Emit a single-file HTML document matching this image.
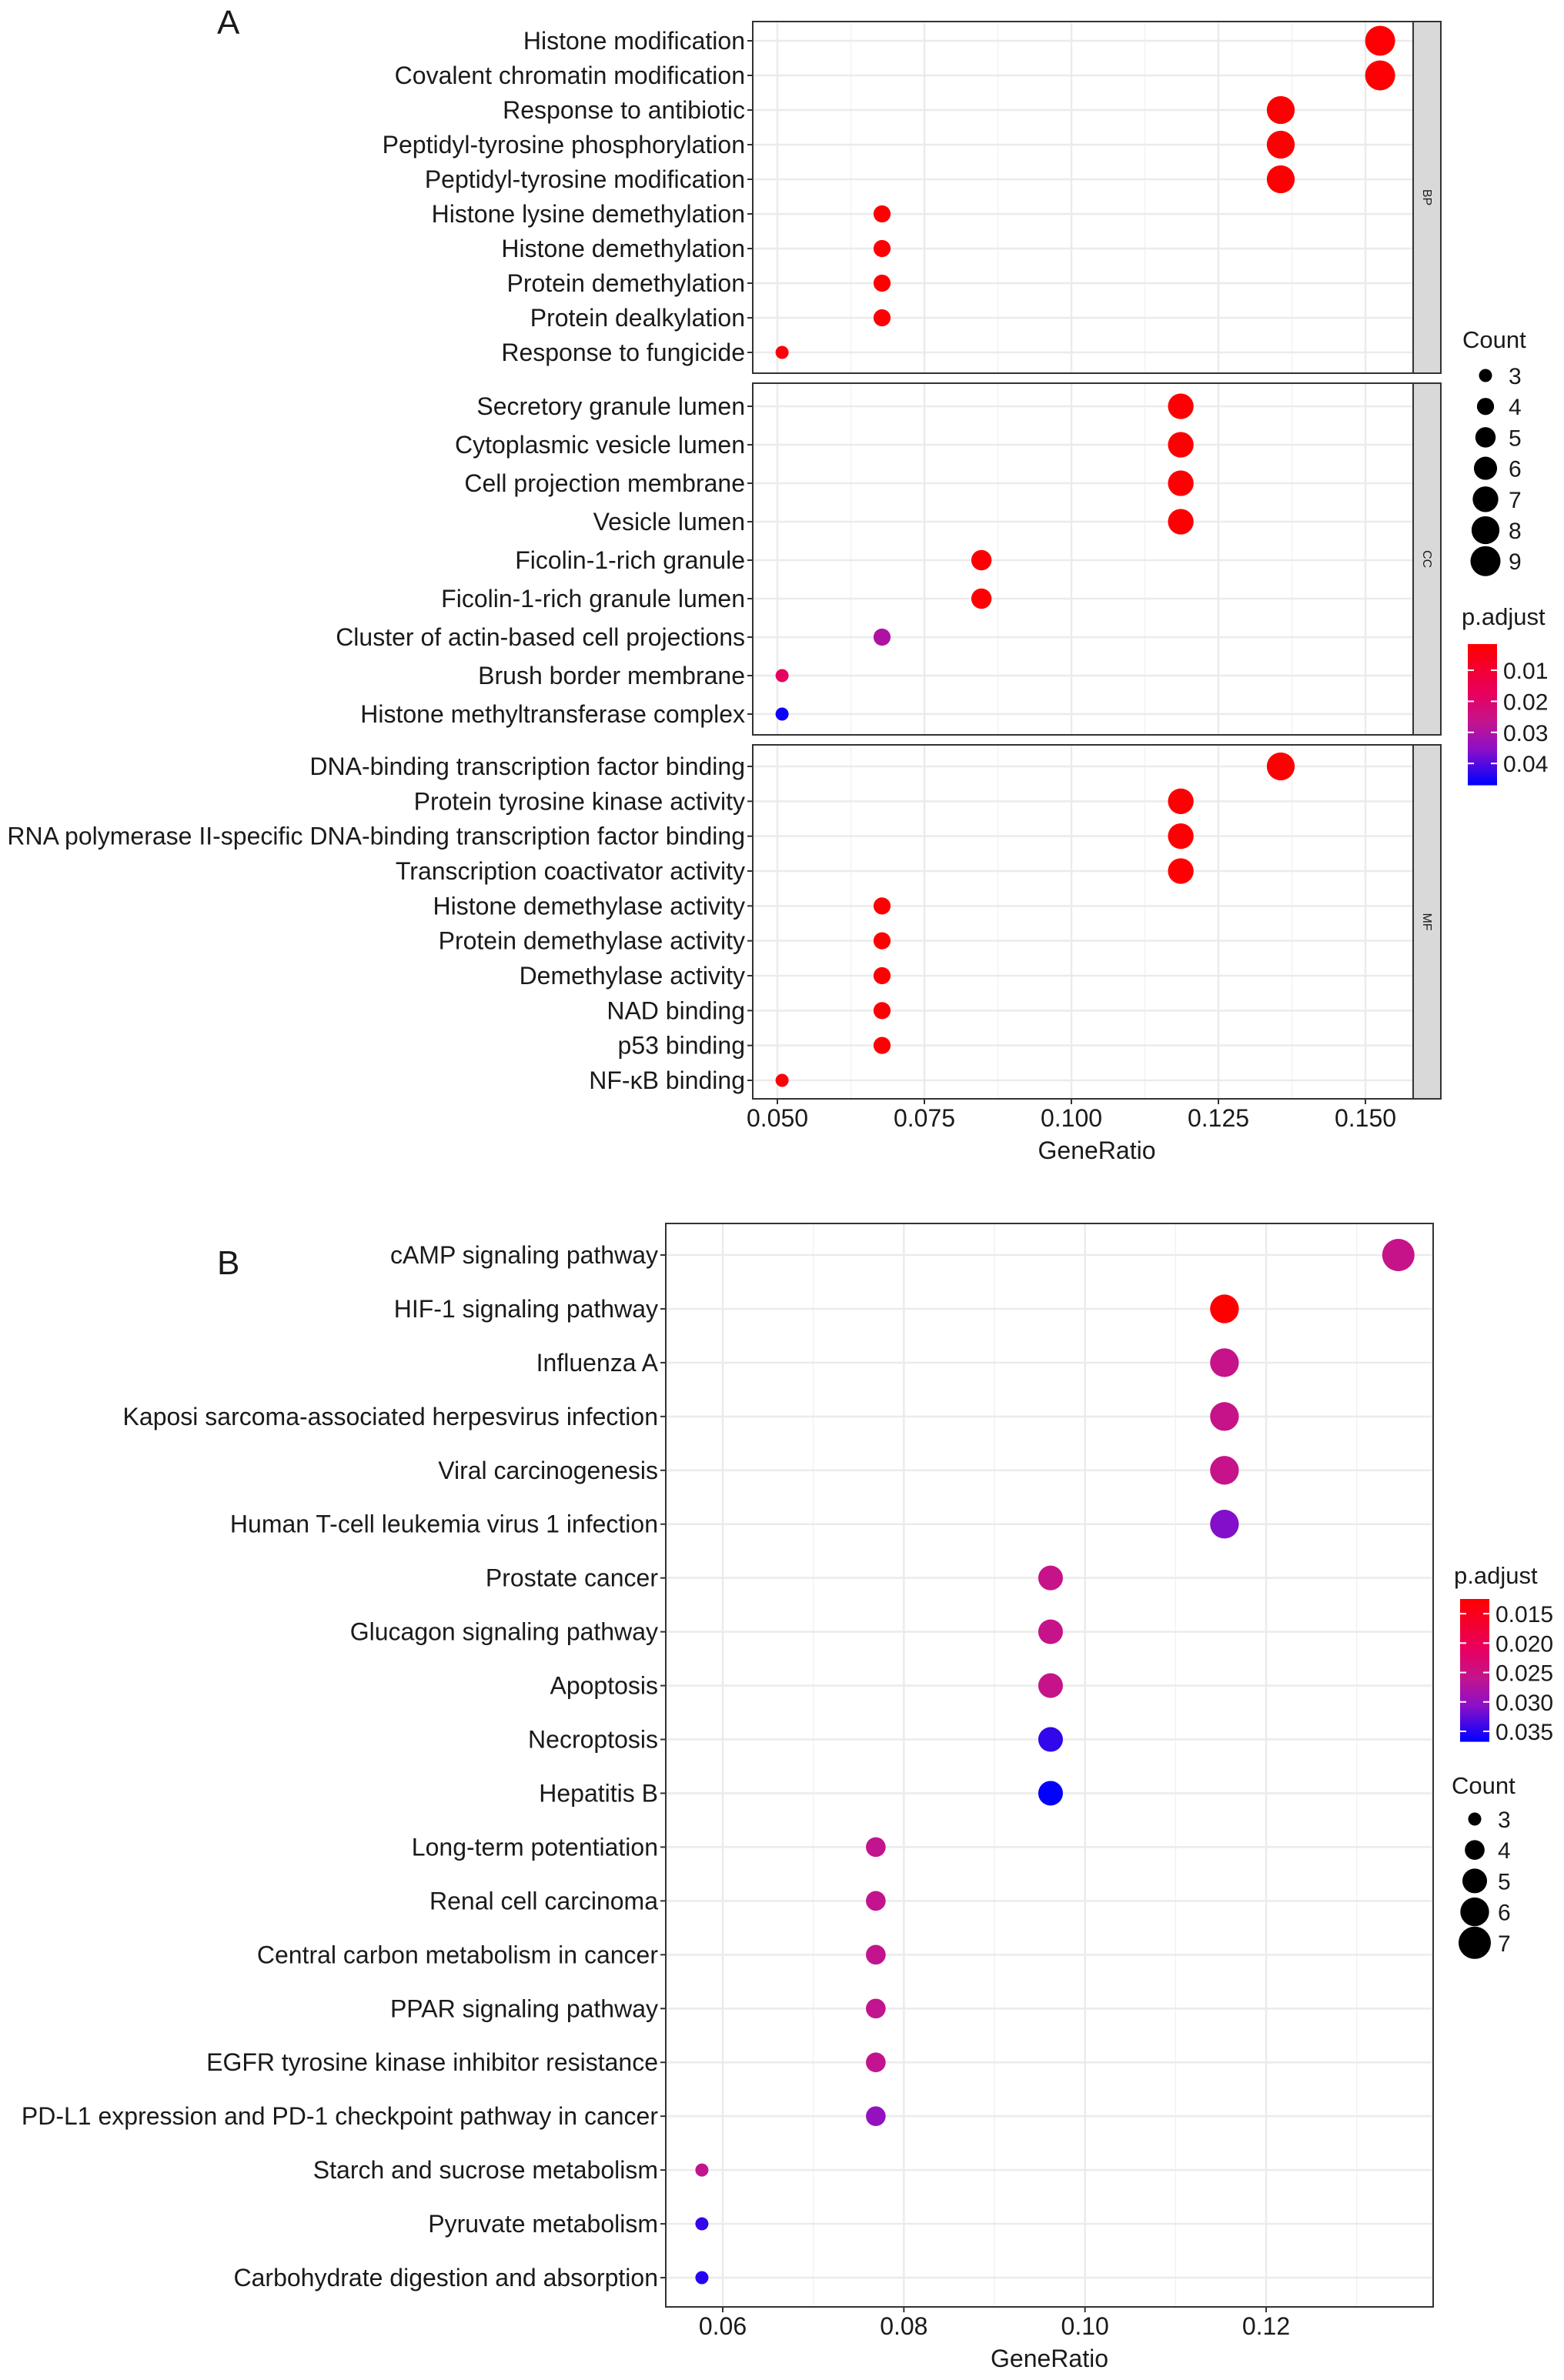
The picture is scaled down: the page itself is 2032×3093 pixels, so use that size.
<!DOCTYPE html>
<html><head><meta charset="utf-8"><style>
html,body{margin:0;padding:0;background:#fff}
svg{display:block}
text{font-family:"Liberation Sans",Arial,sans-serif;fill:#1a1a1a}
</style></head><body>
<svg id="chart" width="2032" height="3093" viewBox="0 0 2032 3093" xmlns="http://www.w3.org/2000/svg">
<rect width="2032" height="3093" fill="#fff"/>
<text x="282" y="44" font-size="44">A</text>
<text x="282" y="1656" font-size="44">B</text>
</svg>
<script>
// ---------- Panel A data ----------
const bpTerms=["Histone modification","Covalent chromatin modification","Response to antibiotic","Peptidyl-tyrosine phosphorylation","Peptidyl-tyrosine modification","Histone lysine demethylation","Histone demethylation","Protein demethylation","Protein dealkylation","Response to fungicide"];
const bpRatio=[0.1525,0.1525,0.1356,0.1356,0.1356,0.0678,0.0678,0.0678,0.0678,0.0508];
const bpCount=[9,9,8,8,8,4,4,4,4,3];
const bpPadj=[0.002,0.002,0.002,0.002,0.002,0.002,0.002,0.002,0.002,0.003];
const ccTerms=["Secretory granule lumen","Cytoplasmic vesicle lumen","Cell projection membrane","Vesicle lumen","Ficolin-1-rich granule","Ficolin-1-rich granule lumen","Cluster of actin-based cell projections","Brush border membrane","Histone methyltransferase complex"];
const ccRatio=[0.1186,0.1186,0.1186,0.1186,0.0847,0.0847,0.0678,0.0508,0.0508];
const ccCount=[7,7,7,7,5,5,4,3,3];
const ccPadj=[0.002,0.002,0.002,0.002,0.002,0.002,0.030,0.018,0.046];
const mfTerms=["DNA-binding transcription factor binding","Protein tyrosine kinase activity","RNA polymerase II-specific DNA-binding transcription factor binding","Transcription coactivator activity","Histone demethylase activity","Protein demethylase activity","Demethylase activity","NAD binding","p53 binding","NF-κB binding"];
const mfRatio=[0.1356,0.1186,0.1186,0.1186,0.0678,0.0678,0.0678,0.0678,0.0678,0.0508];
const mfCount=[8,7,7,7,4,4,4,4,4,3];
const mfPadj=[0.002,0.002,0.002,0.002,0.002,0.002,0.002,0.002,0.002,0.003];
const aTicks=[0.050,0.075,0.100,0.125,0.150];
const aTickLabels=["0.050","0.075","0.100","0.125","0.150"];
const aCountLegend=[3,4,5,6,7,8,9];
const aPadjLegend=[0.01,0.02,0.03,0.04];
// ---------- Panel B data ----------
const bTerms=["cAMP signaling pathway","HIF-1 signaling pathway","Influenza A","Kaposi sarcoma-associated herpesvirus infection","Viral carcinogenesis","Human T-cell leukemia virus 1 infection","Prostate cancer","Glucagon signaling pathway","Apoptosis","Necroptosis","Hepatitis B","Long-term potentiation","Renal cell carcinoma","Central carbon metabolism in cancer","PPAR signaling pathway","EGFR tyrosine kinase inhibitor resistance","PD-L1 expression and PD-1 checkpoint pathway in cancer","Starch and sucrose metabolism","Pyruvate metabolism","Carbohydrate digestion and absorption"];
const bRatio=[0.1346,0.1154,0.1154,0.1154,0.1154,0.1154,0.0962,0.0962,0.0962,0.0962,0.0962,0.0769,0.0769,0.0769,0.0769,0.0769,0.0769,0.0577,0.0577,0.0577];
const bCount=[7,6,6,6,6,6,5,5,5,5,5,4,4,4,4,4,4,3,3,3];
const bPadj=[0.0255,0.0126,0.0255,0.0255,0.0255,0.031,0.0255,0.0255,0.0255,0.0345,0.0366,0.026,0.026,0.026,0.026,0.026,0.030,0.026,0.0345,0.035];
const bTicks=[0.06,0.08,0.10,0.12];
const bTickLabels=["0.06","0.08","0.10","0.12"];
const bCountLegend=[3,4,5,6,7];
const bPadjLegend=[0.015,0.020,0.025,0.030,0.035];

const NS="http://www.w3.org/2000/svg";
const svg=document.getElementById('chart');
function mk(tag,attrs,parent){const e=document.createElementNS(NS,tag);for(const k in attrs)e.setAttribute(k,attrs[k]);(parent||svg).appendChild(e);return e;}
const stops=[[0,[255,0,0]],[0.35,[232,0,95]],[0.55,[196,20,140]],[0.75,[140,16,200]],[1,[0,0,255]]];
function colorT(t){t=Math.max(0,Math.min(1,t));for(let i=1;i<stops.length;i++){if(t<=stops[i][0]){const a=stops[i-1],b=stops[i];const f=(t-a[0])/(b[0]-a[0]);const c=a[1].map((v,j)=>Math.round(v+(b[1][j]-v)*f));return `rgb(${c[0]},${c[1]},${c[2]})`;}}return 'rgb(0,0,255)';}
function sizeFn(cmin,cmax,rmin,rmax){return c=>Math.sqrt(rmin*rmin+(rmax*rmax-rmin*rmin)*(c-cmin)/(cmax-cmin));}

function panel(o){
  const xs=v=>o.x0+(v-o.v0)/(o.v1-o.v0)*(o.x1-o.x0);
  const g=mk('g',{});
  
  
  mk('rect',{x:o.left,y:o.top,width:o.right-o.left,height:o.bottom-o.top,fill:'#fff'},g);
  for(let i=0;i<o.ticks.length+1;i++){const v=o.ticks[0]+(i-0.5)*(o.ticks[1]-o.ticks[0]);const x=xs(v);if(x>o.left&&x<o.right)mk('line',{x1:x,x2:x,y1:o.top,y2:o.bottom,stroke:'#f2f2f2','stroke-width':1.5},g);}
  o.ticks.forEach(v=>{const x=xs(v);mk('line',{x1:x,x2:x,y1:o.top,y2:o.bottom,stroke:'#ebebeb','stroke-width':2.5},g);});
  const n=o.terms.length;
  const yAt=i=>o.yFirst+i*(o.yLast-o.yFirst)/(n-1);
  o.terms.forEach((t,i)=>{const y=yAt(i);
    mk('line',{x1:o.left,x2:o.right,y1:y,y2:y,stroke:'#ebebeb','stroke-width':2.5},g);
    mk('line',{x1:o.left-7,x2:o.left,y1:y,y2:y,stroke:'#333','stroke-width':2},g);
    const tx=mk('text',{x:o.left-10,y:y+11,'text-anchor':'end','font-size':o.fs},g);tx.textContent=t;
    
    
  });
  o.terms.forEach((t,i)=>{
    const c=mk('circle',{cx:xs(o.ratio[i]),cy:yAt(i),r:o.size(o.count[i]),fill:colorT((o.padj[i]-o.p0)/(o.p1-o.p0))},g);
    
    
  });
  mk('rect',{x:o.left,y:o.top,width:o.right-o.left,height:o.bottom-o.top,fill:'none',stroke:'#333','stroke-width':2},g);
  if(o.strip){
    mk('rect',{x:o.right,y:o.top,width:36,height:o.bottom-o.top,fill:'#d9d9d9',stroke:'#333','stroke-width':2},g);
    const st=mk('text',{x:0,y:0,'font-size':16,'text-anchor':'middle',transform:`translate(${o.right+13},${(o.top+o.bottom)/2}) rotate(90)`},g);
    st.textContent=o.strip;
    
    
  }
  if(o.axis){
    o.ticks.forEach((v,i)=>{const x=xs(v);
      mk('line',{x1:x,x2:x,y1:o.bottom,y2:o.bottom+7,stroke:'#333','stroke-width':2},g);
      const tl=mk('text',{x:x,y:o.tickY,'text-anchor':'middle','font-size':o.fs},g);tl.textContent=o.tickLabels[i];
      
      
    });
    const at=mk('text',{x:(o.left+o.axRight)/2,y:o.titleY,'text-anchor':'middle','font-size':o.fs},g);at.textContent='GeneRatio';
    
    
  }
}
function countLegend(x,ty,vals,y0,step,size,name){
  const g=mk('g',{});
  
  
  const t=mk('text',{x:x,y:ty,'font-size':31},g);t.textContent='Count';
  vals.forEach((v,i)=>{const y=y0+i*step;mk('circle',{cx:x+30,cy:y,r:size(v),fill:'#000'},g);
    const l=mk('text',{x:x+60,y:y+11,'font-size':30},g);l.textContent=v;});
}
function padjLegend(x,ty,barTop,barBot,p0,p1,vals,labels,name){
  const g=mk('g',{});
  
  
  const t=mk('text',{x:x-8,y:ty,'font-size':31},g);t.textContent='p.adjust';
  const N=60,h=(barBot-barTop)/N;
  for(let i=0;i<N;i++)mk('rect',{x:x,y:barTop+i*h,width:38,height:h+0.6,fill:colorT((i+0.5)/N)},g);
  vals.forEach((v,i)=>{const y=barTop+(v-p0)/(p1-p0)*(barBot-barTop);
    mk('line',{x1:x,x2:x+8,y1:y,y2:y,stroke:'#fff','stroke-width':2},g);
    mk('line',{x1:x+30,x2:x+38,y1:y,y2:y,stroke:'#fff','stroke-width':2},g);
    const l=mk('text',{x:x+46,y:y+11,'font-size':30},g);l.textContent=labels[i];});
}
// Panel A
const sA=sizeFn(3,9,8.5,19.5);
const aBase={left:978,right:1836,x0:1010,x1:1774,v0:0.05,v1:0.15,ticks:aTicks,tickLabels:aTickLabels,size:sA,p0:0.00157,p1:0.0469,fs:32};
panel(Object.assign({},aBase,{name:'panel-a-bp',top:28,bottom:485,terms:bpTerms,ratio:bpRatio,count:bpCount,padj:bpPadj,yFirst:53,yLast:458,strip:'BP'}));
panel(Object.assign({},aBase,{name:'panel-a-cc',top:498,bottom:955,terms:ccTerms,ratio:ccRatio,count:ccCount,padj:ccPadj,yFirst:528,yLast:928,strip:'CC'}));
panel(Object.assign({},aBase,{name:'panel-a-mf',top:968,bottom:1428,terms:mfTerms,ratio:mfRatio,count:mfCount,padj:mfPadj,yFirst:996,yLast:1404,strip:'MF',axis:true,tickY:1464,titleY:1506,axRight:1872}));
countLegend(1900,452,aCountLegend,488,40.2,sA,'count-legend-a');
padjLegend(1907,812,837,1020,0.00157,0.0469,aPadjLegend,["0.01","0.02","0.03","0.04"],'padj-legend-a');
// Panel B
const sB=sizeFn(3,7,8.5,21);
panel({name:'panel-b-kegg',left:865,right:1862,top:1590,bottom:2998,x0:939,x1:1645,v0:0.06,v1:0.12,ticks:bTicks,tickLabels:bTickLabels,size:sB,p0:0.0125,p1:0.0367,fs:32,terms:bTerms,ratio:bRatio,count:bCount,padj:bPadj,yFirst:1631,yLast:2960,axis:true,tickY:3034,titleY:3076,axRight:1862});
padjLegend(1897,2058,2078,2263,0.0125,0.0367,bPadjLegend,["0.015","0.020","0.025","0.030","0.035"],'padj-legend-b');
countLegend(1886,2331,bCountLegend,2364,40.2,sB,'count-legend-b');
</script>
</body></html>
